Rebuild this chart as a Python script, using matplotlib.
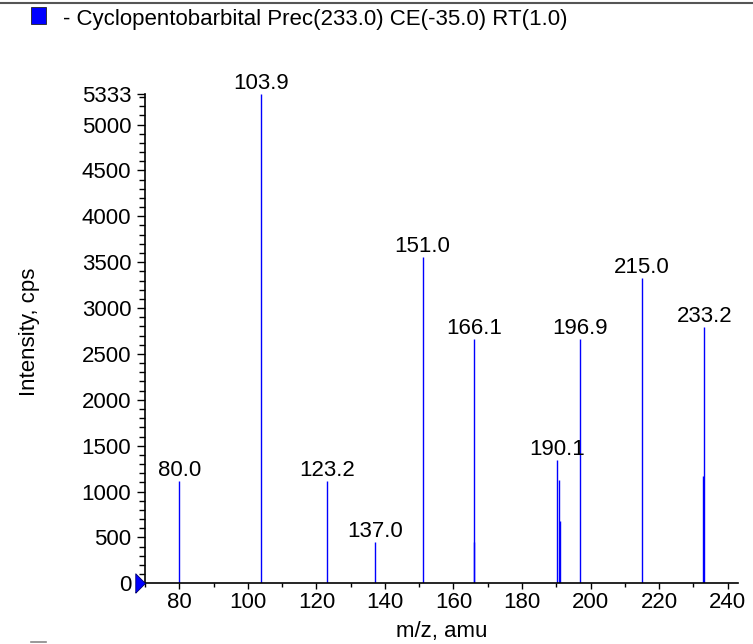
import numpy as np
import matplotlib
matplotlib.use("Agg")
import matplotlib.pyplot as plt
from matplotlib.lines import Line2D
from matplotlib.patches import Rectangle
from matplotlib.ticker import MultipleLocator, FixedLocator

plt.rcParams['font.family'] = ['Liberation Sans', 'DejaVu Sans']

# spectrum peaks (m/z, intensity in cps)
mz = [80.0, 103.9, 123.2, 137.0, 151.0, 165.9, 166.1, 190.1, 190.9, 191.1, 196.9, 215.0, 232.9, 233.2]
intensity = [1115, 5333, 1115, 452, 3558, 452, 2663, 1340, 1123, 677, 2663, 3326, 1166, 2797]

# peaks that carry a label
label_mz = [80.0, 103.9, 123.2, 137.0, 151.0, 166.1, 190.1, 196.9, 215.0, 233.2]
label_int = [1115, 5333, 1115, 452, 3558, 2663, 1340, 2663, 3326, 2797]

legend_text = "- Cyclopentobarbital Prec(233.0) CE(-35.0) RT(1.0)"
y_max = 5333
x_lim = (70, 243)
FS = 16

W, H = 753, 644
fig = plt.figure(figsize=(W / 100, H / 100), dpi=100)
ax = fig.add_axes([145 / W, 1 - 583.3 / H, (738 - 145) / W, (583.3 - 94) / H])

ax.vlines(mz, 0, intensity, colors='#0000ff', linewidth=1.0)

for x, y in zip(label_mz, label_int):
    ax.annotate(f"{x:.1f}", (x, y), xytext=(0, 0), textcoords='offset points',
                ha='center', va='bottom', fontsize=FS, color='black')

ax.set_xlim(*x_lim)
ax.set_ylim(0, y_max)
ax.xaxis.set_major_locator(MultipleLocator(20))
ax.xaxis.set_minor_locator(MultipleLocator(10))
ax.yaxis.set_major_locator(FixedLocator(list(range(0, 5001, 500)) + [y_max]))
ax.yaxis.set_minor_locator(MultipleLocator(100))
ax.tick_params(axis='both', which='both', labelsize=FS, width=1)
ax.tick_params(axis='x', which='major', length=4, pad=2)
ax.tick_params(axis='x', which='minor', length=3)
ax.tick_params(axis='y', which='major', length=6, pad=4)
ax.tick_params(axis='y', which='minor', length=4)
for s in ['top', 'right']:
    ax.spines[s].set_visible(False)
for s in ['left', 'bottom']:
    ax.spines[s].set_linewidth(1.2)

# blue marker at zero on the y axis
tri = [(-1, -1), (0, 0), (-1, 1), (-1, -1)]
ax.plot([x_lim[0]], [0], marker=tri, markersize=14, color='#0000ff',
        markeredgecolor='#000066', markeredgewidth=0.6, clip_on=False, zorder=5)

fig.text(30 / W, 1 - 332 / H, "Intensity, cps", rotation=90, ha='center', va='center', fontsize=FS)
fig.text(442 / W, 1 - 637 / H, "m/z, amu", ha='center', va='baseline', fontsize=FS)

# header
fig.add_artist(Line2D([0, 1], [1 - 2.5 / H, 1 - 2.5 / H], transform=fig.transFigure, color='#555555', lw=1.5))
fig.add_artist(Rectangle((31 / W, 1 - 24 / H), 15 / W, 17 / H, transform=fig.transFigure,
                         facecolor='#0000ff', edgecolor='#222222', lw=0.6))
fig.text(63 / W, 1 - 25 / H, legend_text, ha='left', va='baseline', fontsize=FS)
fig.add_artist(Line2D([31 / W, 46 / W], [1 - 642 / H, 1 - 642 / H], transform=fig.transFigure, color='#888888', lw=1.2))

fig.savefig("out.png", dpi=100)
